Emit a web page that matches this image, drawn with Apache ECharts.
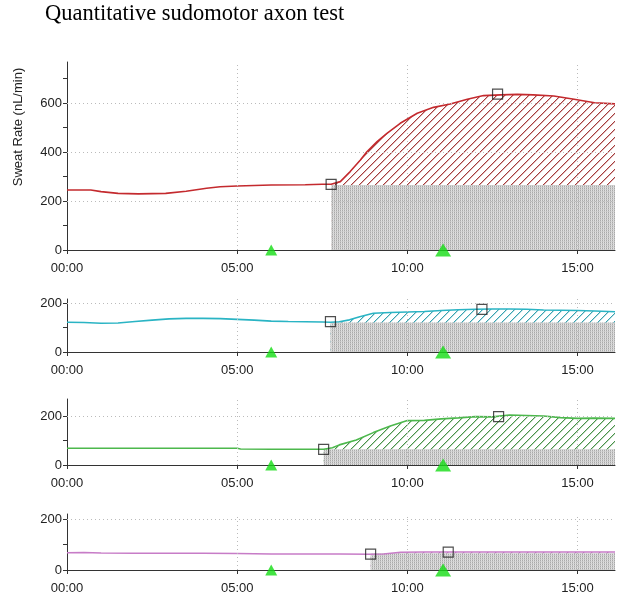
<!DOCTYPE html>
<html>
<head>
<meta charset="utf-8">
<title>Quantitative sudomotor axon test</title>
<script src="https://cdn.jsdelivr.net/npm/echarts@6/dist/echarts.min.js"></script>
<style>html,body{margin:0;padding:0;background:#fff;}</style>
</head>
<body>
<div id="main" style="width:631px;height:603px;"></div>
<script>
// time in minutes, sweat rate in nL/min
var time1 = [0, 0.7, 1.0, 1.5, 2.1, 2.9, 3.5, 4.1, 4.5, 5.0, 6.0, 7.0, 7.5, 7.76, 8.03, 8.32, 8.62, 8.81, 9.11, 9.4, 9.79, 10.29, 10.77, 11.26, 11.76, 12.24, 12.74, 13.23, 13.7, 14.3, 14.9, 15.5, 16.1];
var rate1 = [245, 245, 238, 231, 229, 231, 240, 252, 258, 261, 265, 266, 268, 268, 279, 320, 367, 401, 442, 476, 517, 558, 582, 596, 615, 630, 633, 635, 633, 628, 615, 601, 596];

var time2 = [0, 0.5, 1.0, 1.5, 2.0, 2.5, 3.0, 3.5, 4.0, 4.5, 5.0, 5.5, 6.0, 6.5, 7.0, 7.5, 7.74, 8.0, 8.3, 8.6, 9.0, 9.5, 10.0, 10.5, 11.0, 11.5, 12.0, 12.5, 13.0, 13.5, 14.0, 14.5, 15.0, 15.5, 16.1];
var rate2 = [121, 120, 117, 118, 124, 130, 135, 137, 137, 136, 133, 130, 126, 124, 123, 122, 121, 123, 131, 144, 158, 161, 163, 165, 169, 172, 174, 175, 175, 174, 171, 170, 169, 167, 164];

var time3 = [0, 2.0, 4.0, 5.0, 5.1, 6.0, 7.0, 7.54, 7.8, 8.0, 8.5, 9.0, 9.5, 10.0, 10.5, 11.0, 11.5, 12.0, 12.5, 13.0, 13.5, 14.0, 14.5, 15.0, 15.5, 16.1];
var rate3 = [68, 68, 68, 68, 65, 64, 64, 64, 70, 82, 102, 132, 159, 181, 182, 188, 192, 197, 196, 204, 202, 200, 193, 190, 191, 190];

var time4 = [0, 0.5, 1.0, 2.0, 3.0, 4.0, 5.0, 5.5, 6.0, 7.0, 8.0, 8.92, 9.3, 9.8, 10.5, 11.0, 12.0, 13.0, 14.0, 15.0, 16.1];
var rate4 = [68, 69, 67, 66, 66, 66, 65, 64, 63, 63, 63, 62, 63, 70, 71, 71, 71, 71, 71, 71, 71];

// response onset / peak markers [time, rate]
var marks1 = [[7.76, 268], [12.65, 636]];
var marks2 = [[7.74, 124], [12.19, 174]];
var marks3 = [[7.54, 64], [12.68, 197]];
var marks4 = [[8.92, 62], [11.2, 70]];

var baseline = [265, 120, 64, 66];
var stimulusTimes = [6.0, 11.05];

var xTickValues = [0, 5, 10, 15];
var xTickLabels = ['00:00', '05:00', '10:00', '15:00'];
var yLabels1 = [0, 200, 400, 600];
var yTicks1 = [0, 100, 200, 300, 400, 500, 600, 700];
var yLabelsSmall = [0, 200];
var yTicksSmall = [0, 100, 200];

var myChart = echarts.init(document.getElementById('main'));

// diagonal hatch: one solid pixel plus a softer neighbour per row
function hatch(color, soft) {
    var n = 8;
    var c = document.createElement('canvas');
    c.width = n; c.height = n;
    var g = c.getContext('2d');
    g.fillStyle = '#ffffff';
    g.fillRect(0, 0, n, n);
    for (var x = 0; x < n; x++) {
        g.fillStyle = color;
        g.fillRect(x, n - 1 - x, 1, 1);
        g.fillStyle = soft;
        g.fillRect((x + 1) % n, n - 1 - x, 1, 1);
    }
    return c;
}
function stipple() {
    var c = document.createElement('canvas');
    c.width = 2; c.height = 2;
    var g = c.getContext('2d');
    g.fillStyle = '#a9a9a9'; g.fillRect(0, 0, 1, 1);
    g.fillStyle = '#c6c6c6'; g.fillRect(0, 1, 1, 1);
    g.fillStyle = '#e2e2e2'; g.fillRect(1, 0, 1, 1);
    g.fillStyle = '#d4d4d4'; g.fillRect(1, 1, 1, 1);
    return c;
}
var dots = stipple();

var panels = [
    {time: time1, rate: rate1, marks: marks1, color: '#c42a2e', hatch: ['#a63c3c', '#dcb4b4'], top: 62, height: 188, max: 767, labels: yLabels1, ticks: yTicks1},
    {time: time2, rate: rate2, marks: marks2, color: '#2ab4c4', hatch: ['#3aa2b0', '#b8dfe4'], top: 299, height: 53, max: 216, labels: yLabelsSmall, ticks: yTicksSmall},
    {time: time3, rate: rate3, marks: marks3, color: '#4cb84c', hatch: ['#4a924a', '#bcd8bc'], top: 399, height: 66, max: 269, labels: yLabelsSmall, ticks: yTicksSmall},
    {time: time4, rate: rate4, marks: marks4, color: '#c77cc7', hatch: ['#a868a8', '#e0c8e0'], top: 514, height: 56, max: 220, labels: yLabelsSmall, ticks: yTicksSmall}
];

var font = 'Liberation Sans, Arial, sans-serif';
var grids = [], xAxes = [], yAxes = [], series = [];

panels.forEach(function (p, i) {
    var tEnd = p.time[p.time.length - 1];
    var t0 = p.marks[0][0];
    var curve = p.time.map(function (t, k) { return [t, p.rate[k]]; });
    var hatchData = [[t0, baseline[i]]].concat(curve.filter(function (d) { return d[0] > t0; }));

    grids.push({left: 67, right: 16, top: p.top, height: p.height});
    xAxes.push({
        type: 'value', gridIndex: i, min: 0, max: tEnd,
        axisLine: {lineStyle: {color: '#333', width: 1}},
        axisTick: {customValues: xTickValues, length: 4, lineStyle: {color: '#333'}},
        axisLabel: {
            customValues: xTickValues, margin: 12, fontSize: 13, color: '#222', fontFamily: font,
            formatter: function (v) { return xTickLabels[xTickValues.indexOf(v)]; }
        },
        splitLine: {show: false}
    });
    yAxes.push({
        type: 'value', gridIndex: i, min: 0, max: p.max,
        axisLine: {show: true, lineStyle: {color: '#333', width: 1}},
        axisTick: {customValues: p.ticks, length: 4, lineStyle: {color: '#333'}},
        axisLabel: {customValues: p.labels, margin: 5, fontSize: 13, color: '#222', fontFamily: font},
        splitLine: {show: false}
    });

    var gl = [{xAxis: 5}, {xAxis: 10}, {xAxis: 15}];
    p.labels.forEach(function (v) { if (v > 0) gl.push({yAxis: v}); });

    // grid lines
    series.push({
        type: 'line', xAxisIndex: i, yAxisIndex: i, z: 1, silent: true,
        data: [curve[0]], showSymbol: false, lineStyle: {width: 0},
        markLine: {
            silent: true, symbol: 'none', label: {show: false}, animation: false,
            lineStyle: {color: '#bbbbbb', type: [1, 3], width: 1},
            data: gl
        }
    });
    // response area above baseline
    series.push({
        type: 'line', xAxisIndex: i, yAxisIndex: i, z: 2, silent: true,
        data: hatchData, showSymbol: false, lineStyle: {width: 0},
        areaStyle: {color: {image: hatch(p.hatch[0], p.hatch[1]), repeat: 'repeat'}, opacity: 1}
    });
    // baseline area
    series.push({
        type: 'line', xAxisIndex: i, yAxisIndex: i, z: 3, silent: true,
        data: [[t0, baseline[i]], [tEnd, baseline[i]]], showSymbol: false, lineStyle: {width: 0},
        areaStyle: {color: {image: dots, repeat: 'repeat'}, opacity: 1}
    });
    // sweat rate curve
    series.push({
        type: 'line', xAxisIndex: i, yAxisIndex: i, z: 4,
        data: curve, showSymbol: false,
        lineStyle: {color: p.color, width: 1.6}
    });
    series.push({
        type: 'scatter', xAxisIndex: i, yAxisIndex: i, z: 5, clip: false,
        data: p.marks, symbol: 'rect', symbolSize: 10,
        itemStyle: {color: 'rgba(255,255,255,0)', borderColor: '#222', borderWidth: 1.2}
    });
    series.push({
        type: 'scatter', xAxisIndex: i, yAxisIndex: i, z: 6, clip: false,
        data: stimulusTimes.map(function (t) { return [t, 0]; }),
        symbol: 'triangle',
        symbolSize: function (v, params) { return params.dataIndex === 0 ? [12, 11] : [16, 13]; },
        itemStyle: {color: '#14dc14'}
    });
});

myChart.setOption({
    animation: false,
    title: {
        text: 'Quantitative sudomotor axon test', left: 45, top: 3, padding: 0,
        textStyle: {fontFamily: 'Liberation Serif, Times New Roman, serif', fontSize: 22.5, fontWeight: 'normal', color: '#000'}
    },
    graphic: [{
        type: 'text', x: 18, y: 127, rotation: Math.PI / 2,
        style: {text: 'Sweat Rate (nL/min)', font: '13px Liberation Sans, Arial, sans-serif', fill: '#222', align: 'center', verticalAlign: 'middle'}
    }],
    grid: grids,
    xAxis: xAxes,
    yAxis: yAxes,
    series: series
});
</script>
</body>
</html>
